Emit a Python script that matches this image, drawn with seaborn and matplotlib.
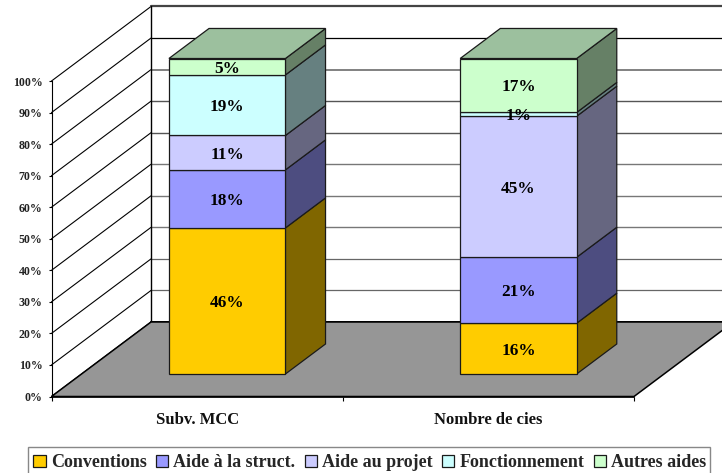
import matplotlib
matplotlib.use("Agg")
import matplotlib.pyplot as plt
from matplotlib.patches import Polygon, Rectangle
import seaborn as sns
import pandas as pd

categories = ["Subv. MCC", "Nombre de cies"]
series_names = ["Conventions", "Aide à la struct.", "Aide au projet", "Fonctionnement", "Autres aides"]
conventions = [46.3, 16.1]
aide_struct = [18.4, 20.9]
aide_projet = [10.9, 44.7]
fonctionnement = [19.2, 1.2]
autres_aides = [5.2, 17.1]
y_ticks = [0, 10, 20, 30, 40, 50, 60, 70, 80, 90, 100]
y_tick_labels = [f"{t}%" for t in y_ticks]

front_colors = ["#FFCC00", "#9999FF", "#CCCCFF", "#CCFFFF", "#CCFFCC"]
side_colors = ["#806600", "#4D4D80", "#666680", "#668080", "#668066"]
top_color = "#9CC09E"
floor_color = "#969696"
grid_colors = ["#000000", "#666666", "#666666", "#777777", "#777777", "#777777",
               "#555555", "#555555", "#777777", "#000000", "#444444"]
grid_widths = [1.4, 0.9, 0.9, 1.0, 1.0, 1.0, 1.0, 1.0, 1.3, 0.9, 1.6]

W, H = 722, 473
sns.set_theme(style="white")
plt.rcParams["font.family"] = ["Liberation Serif", "DejaVu Serif"]
plt.rcParams["font.weight"] = "bold"

fig = plt.figure(figsize=(W / 100, H / 100), dpi=100, facecolor="white")
ax = fig.add_axes([51.5 / W, (H - 396.5) / H, 582.5 / W, 315.5 / H])
ax.patch.set_alpha(0)

# oblique projection: depth 0 = front plane, 1 = back wall
DX = 99.5 / 291.25   # category units per unit depth
DY = 74.5 / 3.155    # percent units per unit depth
D0, D1 = 0.302, 0.705


def proj(x, y, d):
    return (x + d * DX, y + d * DY)


XL, XR = -0.5, 1.5
edge = "#1a1a1a"


def poly(points, fc, z, ec=edge, lw=0.9):
    ax.add_patch(Polygon(points, closed=True, facecolor=fc, edgecolor=ec, linewidth=lw,
                         zorder=z, clip_on=False, joinstyle="miter"))


# side wall and back wall
poly([proj(XL, 0, 0), proj(XL, 100, 0), proj(XL, 100, 1), proj(XL, 0, 1)], "white", 0, lw=0)
for t, c, w in zip(y_ticks, grid_colors, grid_widths):
    a, b = proj(XL, t, 0), proj(XL, t, 1)
    ax.plot([a[0], b[0]], [a[1], b[1]], color="black", lw=0.8, zorder=1, clip_on=False)
    e = proj(XR, t, 1)
    ax.plot([b[0], e[0]], [b[1], e[1]], color=c, lw=w, zorder=1, clip_on=False)
a, b = proj(XL, 0, 1), proj(XL, 100, 1)
ax.plot([a[0], b[0]], [a[1], b[1]], color="black", lw=1.0, zorder=1, clip_on=False)

# floor
poly([proj(XL, 0, 0), proj(XR, 0, 0), proj(XR, 0, 1), proj(XL, 0, 1)], floor_color, 2, ec="black", lw=1.1)

# stacked bars
table = pd.DataFrame({"cat": categories})
stack = [conventions, aide_struct, aide_projet, fonctionnement, autres_aides]
BW = 0.4
bottoms = [0.0, 0.0]
for name, vals, fc, sc in zip(series_names, stack, front_colors, side_colors):
    table["val"] = vals
    n0 = len(ax.patches)
    sns.barplot(data=table, x="cat", y="val", bottom=bottoms, width=BW, color=fc, saturation=1,
                edgecolor=edge, linewidth=0.9, label=name, ax=ax, zorder=5, legend=False)
    for i, patch in enumerate(ax.patches[n0:]):
        patch.set_x(i - BW / 2 + D0 * DX)
        patch.set_y(bottoms[i] + D0 * DY)
        patch.set_clip_on(False)
        x1 = i + BW / 2
        y0, y1 = bottoms[i], bottoms[i] + vals[i]
        poly([proj(x1, y0, D0), proj(x1, y1, D0), proj(x1, y1, D1), proj(x1, y0, D1)], sc, 4)
        cx, cy = proj(i, y0 + vals[i] / 2, D0)
        ax.annotate(f"{vals[i]:.0f}%", (cx, cy), xytext=(0, -2), textcoords="offset pixels",
                    ha="center", va="center", fontsize=12.4,
                    fontweight="bold", color="black", zorder=8, annotation_clip=False)
    bottoms = [b + v for b, v in zip(bottoms, vals)]

for i in range(len(categories)):
    x0, x1 = i - BW / 2, i + BW / 2
    poly([proj(x0, 100, D0), proj(x1, 100, D0), proj(x1, 100, D1), proj(x0, 100, D1)], top_color, 4)

# axes
ax.set_xlim(XL, XR)
ax.set_ylim(0, 100)
ax.set_xlabel("")
ax.set_ylabel("")
ax.set_yticks(y_ticks, y_tick_labels, fontsize=8.6, fontweight="bold", color="#222222")
ax.set_xticks([0, 1], categories, fontsize=12, fontweight="bold", color="#111111")
ax.set_xticks([-0.5, 0.5, 1.5], minor=True)
ax.tick_params(axis="y", left=True, length=2.5, width=0.8, color="black", pad=4)
ax.tick_params(axis="x", which="major", bottom=False, length=0, pad=11)
ax.tick_params(axis="x", which="minor", bottom=True, length=3, width=0.8, color="black")
for s in ["top", "right"]:
    ax.spines[s].set_visible(False)
ax.spines["left"].set_color("black")
ax.spines["left"].set_linewidth(0.8)
ax.spines["left"].set_zorder(3)
ax.spines["bottom"].set_color("black")
ax.spines["bottom"].set_linewidth(1.2)
ax.spines["bottom"].set_zorder(3)

# legend: the frame runs past the bottom edge of the picture
fig.add_artist(Rectangle((28 / W, -0.02), 682 / W, 1 - 447 / H + 0.02, transform=fig.transFigure,
                         facecolor="white", edgecolor="#888888", linewidth=1.0, zorder=1))
handles, labels = ax.get_legend_handles_labels()
leg = fig.legend(handles[:5], labels[:5], loc="upper left",
                 bbox_to_anchor=(28 / W, 1 - 449 / H), bbox_transform=fig.transFigure,
                 ncol=5, frameon=False, borderaxespad=0, borderpad=0.3,
                 handlelength=0.68, handleheight=0.6, handletextpad=0.28, columnspacing=0.52,
                 prop={"family": "Liberation Serif", "weight": "bold", "size": 13})
leg.set_zorder(5)

fig.savefig("out.png", dpi=100)
